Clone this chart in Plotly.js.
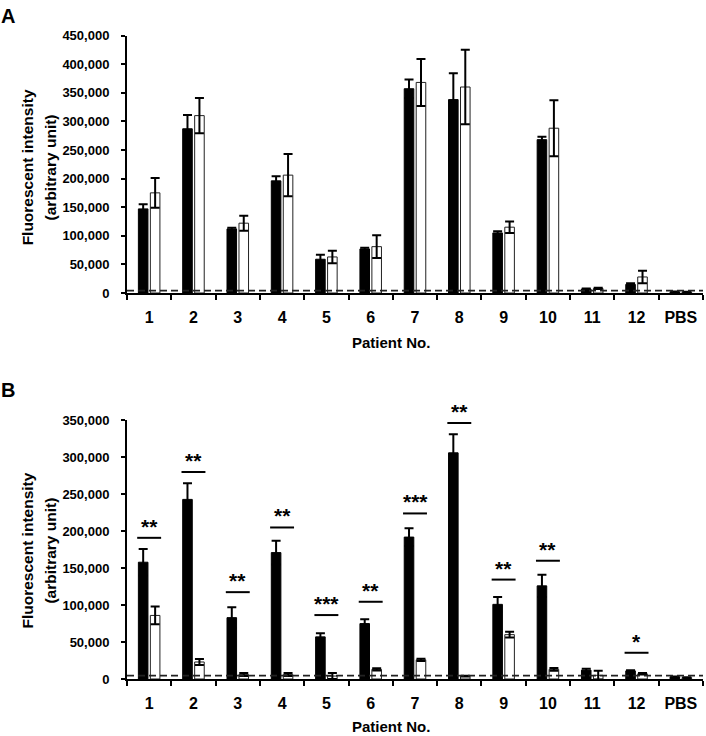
<!DOCTYPE html>
<html>
<head>
<meta charset="utf-8">
<script src="https://cdn.plot.ly/plotly-3.0.1.min.js"></script>
<style>html,body{margin:0;padding:0;background:#fff;}#chart{width:706px;height:736px;}</style>
</head>
<body>
<div id="chart"></div>
<script>
// ---------- data ----------
const patients = ["1","2","3","4","5","6","7","8","9","10","11","12","PBS"];

// Panel A
const aBlack    = [147000, 287000, 112000, 196000, 59000, 77000, 357000, 338000, 105000, 268000, 7000, 15000, 2000];
const aBlackErr = [8000, 24000, 2000, 8000, 8000, 2000, 16000, 46000, 3000, 5000, 1000, 2000, 500];
const aWhite    = [175000, 310000, 122000, 206000, 63000, 81000, 368000, 360000, 115000, 288000, 8000, 28000, 1500];
const aWhiteErr = [26000, 31000, 13000, 37000, 11000, 20000, 41000, 65000, 10000, 49000, 1000, 11000, 500];
const aCutoff = 4000;

// Panel B
const bBlack    = [158000, 243000, 83000, 171000, 57000, 75000, 192000, 306000, 101000, 126000, 12000, 11000, 3000];
const bBlackErr = [18000, 22000, 14000, 16000, 5000, 6000, 12000, 25000, 10000, 15000, 2000, 1000, 500];
const bWhite    = [86000, 23000, 6000, 6000, 4000, 13000, 26000, 4000, 60000, 13000, 5000, 7000, 2000];
const bWhiteErr = [12000, 4000, 2000, 2000, 4000, 1500, 1500, 500, 4000, 2000, 6000, 1000, 500];
const bCutoff = 4500;

// significance marks for panel B
const sigIndex = [0, 1, 2, 3, 4, 5, 6, 7, 8, 9, 11];
const sigY     = [191000, 280000, 117500, 205000, 86500, 104500, 224000, 346500, 134500, 160000, 35500];
const sigLabel = ["**","**","**","**","***","**","***","**","**","**","*"];

const yTicksA = [0,50000,100000,150000,200000,250000,300000,350000,400000,450000];
const yTicksB = [0,50000,100000,150000,200000,250000,300000,350000];

// ---------- build ----------
const font = "Liberation Sans, Arial, sans-serif";
function barTrace(y, err, filled, xa, ya) {
  return {
    type: "bar", x: patients, y: y, xaxis: xa, yaxis: ya,
    marker: {color: filled ? "#000" : "#fff", line: {color: filled ? "#000" : "#222", width: 1}},
    error_y: {type: "data", array: err, visible: true, color: "#000", thickness: 2, width: 4.5},
    hoverinfo: "skip", showlegend: false
  };
}
const traces = [
  barTrace(aBlack, aBlackErr, true, "x", "y"),
  barTrace(aWhite, aWhiteErr, false, "x", "y"),
  barTrace(bBlack, bBlackErr, true, "x2", "y2"),
  barTrace(bWhite, bWhiteErr, false, "x2", "y2")
];

const fmt = v => v.toLocaleString("en-US");
function yaxis(ticks, domain, anchor) {
  return {
    domain: domain, anchor: anchor, range: [0, ticks[ticks.length-1]],
    tickvals: ticks, ticktext: ticks.map(fmt),
    ticks: "outside", ticklen: 4, tickwidth: 2, tickcolor: "#000",
    showline: true, linecolor: "#000", linewidth: 2,
    showgrid: false, zeroline: false, ticklabelstandoff: 9,
    tickfont: {family: font, size: 13, color: "#000", weight: "bold"}
  };
}
function xaxis(anchor) {
  return {
    anchor: anchor, type: "category", range: [-0.5, 12.5],
    tickson: "boundaries", ticks: "outside", ticklen: 5, tickwidth: 2, tickcolor: "#000",
    showline: true, linecolor: "#000", linewidth: 2, showgrid: false, zeroline: false,
    ticklabelstandoff: 9,
    tickfont: {family: font, size: 16, color: "#000", weight: "bold"}
  };
}

const shapes = [
  {type: "line", xref: "x domain", yref: "y", x0: 0, x1: 1, y0: aCutoff, y1: aCutoff,
   line: {color: "#222", width: 1.8, dash: "7px,4px"}, layer: "above"},
  {type: "line", xref: "x2 domain", yref: "y2", x0: 0, x1: 1, y0: bCutoff, y1: bCutoff,
   line: {color: "#222", width: 1.8, dash: "7px,4px"}, layer: "above"}
];
const annotations = [];
sigIndex.forEach((idx, k) => {
  shapes.push({type: "line", xref: "x2", yref: "y2", x0: idx - 0.27, x1: idx + 0.27,
               y0: sigY[k], y1: sigY[k], line: {color: "#000", width: 2}});
  annotations.push({xref: "x2", yref: "y2", x: idx, y: sigY[k], text: sigLabel[k],
    showarrow: false, yanchor: "bottom", yshift: -2,
    font: {family: font, size: 21, color: "#000", weight: "bold"}});
});

const titleFont = {family: font, size: 15.5, color: "#000", weight: "bold"};
function ytitle(yc) {
  annotations.push({xref: "paper", yref: "paper", x: -0.173, y: yc, text: "Fluorescent intensity",
    textangle: -90, showarrow: false, font: titleFont, xanchor: "center", yanchor: "middle"});
  annotations.push({xref: "paper", yref: "paper", x: -0.133, y: yc, text: "(arbitrary unit)",
    textangle: -90, showarrow: false, font: titleFont, xanchor: "center", yanchor: "middle"});
}
ytitle(0.795);
ytitle(0.2);
annotations.push({xref: "paper", yref: "paper", x: 0.459, y: 0.523, text: "Patient No.",
  showarrow: false, font: {family: font, size: 15, color: "#000", weight: "bold"}, xanchor: "center", yanchor: "middle"});
annotations.push({xref: "paper", yref: "paper", x: 0.459, y: -0.074, text: "Patient No.",
  showarrow: false, font: {family: font, size: 15, color: "#000", weight: "bold"}, xanchor: "center", yanchor: "middle"});
annotations.push({xref: "paper", yref: "paper", x: -0.222, y: 1.049, text: "A",
  showarrow: false, font: {family: font, size: 20, color: "#000", weight: "bold"}, xanchor: "left", yanchor: "top"});
annotations.push({xref: "paper", yref: "paper", x: -0.222, y: 0.449, text: "B",
  showarrow: false, font: {family: font, size: 20, color: "#000", weight: "bold"}, xanchor: "left", yanchor: "middle"});

const layout = {
  width: 706, height: 736,
  margin: {l: 127, r: 3, t: 35, b: 57},
  paper_bgcolor: "#fff", plot_bgcolor: "#fff",
  barmode: "group", bargap: 0.46, bargroupgap: 0.2,
  showlegend: false,
  xaxis: xaxis("y"), yaxis: yaxis(yTicksA, [0.5994, 0.9992], "x"),
  xaxis2: xaxis("y2"), yaxis2: yaxis(yTicksB, [0, 0.4017], "x2"),
  shapes: shapes, annotations: annotations
};
Plotly.newPlot("chart", traces, layout, {displayModeBar: false, staticPlot: true});
</script>
</body>
</html>
